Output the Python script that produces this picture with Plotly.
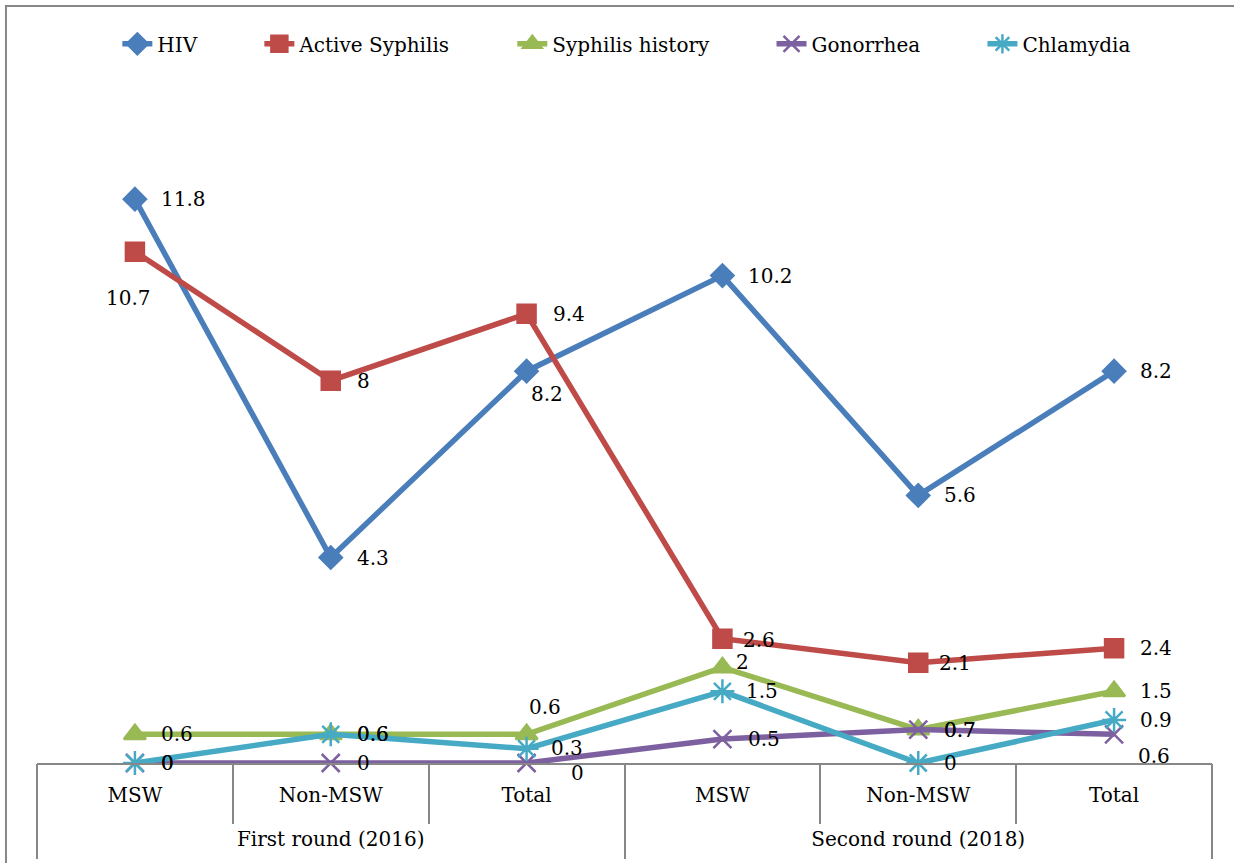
import plotly.graph_objects as go

outer_groups = ["First round (2016)", "Second round (2018)"]
inner = ["MSW", "Non-MSW", "Total", "MSW", "Non-MSW", "Total"]

series_names = ["HIV", "Active Syphilis", "Syphilis history", "Gonorrhea", "Chlamydia"]
hiv = [11.8, 4.3, 8.2, 10.2, 5.6, 8.2]
active_syphilis = [10.7, 8, 9.4, 2.6, 2.1, 2.4]
syphilis_history = [0.6, 0.6, 0.6, 2, 0.7, 1.5]
gonorrhea = [0, 0, 0, 0.5, 0.7, 0.6]
chlamydia = [0, 0.6, 0.3, 1.5, 0, 0.9]
values = [hiv, active_syphilis, syphilis_history, gonorrhea, chlamydia]

colors = ["#4A7EBB", "#BE4B48", "#98B954", "#7D60A0", "#46AAC5"]
symbols = ["diamond", "square", "triangle-up", "x-thin-open", "asterisk-open"]
sizes = [17, 18, 19, 18, 20]

# label offsets in px (dx, dy down-positive, anchor)
R = (24, 0, "left")
label_style = [
    [R, R, (2, 23, "left"), R, R, R],
    [(-6, 46, "center"), R, R, (19, 1, "left"), (19, 0, "left"), R],
    [R, R, (0, -27, "left"), (12, -5, "left"), R, R],
    [R, R, (42, 10, "left"), R, R, (22, 22, "left")],
    [R, R, (22, -1, "left"), (22, 0, "left"), R, R],
]

FONT = "DejaVu Serif"
GRAY = "#878787"
n = len(inner)
x_idx = list(range(n))
group_size = n // len(outer_groups)

fig = go.Figure()
annotations = []
for i, (name, vals, col, sym, sz) in enumerate(zip(series_names, values, colors, symbols, sizes)):
    pad = "\u00a0" * 9 if i < len(series_names) - 1 else ""
    fig.add_trace(go.Scatter(
        x=x_idx, y=vals, name=name + pad, mode="lines+markers",
        line=dict(color=col, width=5.5),
        marker=dict(symbol=sym, size=sz, color=col, line=dict(color=col, width=2.5)),
        cliponaxis=False,
    ))
    for xi, v, (dx, dy, anc) in zip(x_idx, vals, label_style[i]):
        annotations.append(dict(x=xi, y=v, xref="x", yref="y", text=f"{v:g}", showarrow=False,
                                xanchor=anc, yanchor="middle", xshift=dx, yshift=-dy,
                                font=dict(family=FONT, size=20, color="black")))

boundaries = [b - 0.5 for b in range(n + 1)]
group_edges = [g * group_size - 0.5 for g in range(len(outer_groups) + 1)]
group_centers = [g * group_size + (group_size - 1) / 2 for g in range(len(outer_groups))]
xr = [-0.5, n - 0.5]

# invisible helper traces so the overlay axes (boundary ticks, group labels) are drawn
for ax in ["x2", "x3", "x4"]:
    fig.add_trace(go.Scatter(x=[None], y=[None], xaxis=ax, yaxis="y", showlegend=False,
                             hoverinfo="skip", mode="markers"))

common = dict(range=xr, showgrid=False, zeroline=False, automargin=False, fixedrange=True)

fig.update_layout(
    width=1234, height=863,
    margin=dict(l=37, r=22, t=94, b=100, autoexpand=False),
    plot_bgcolor="white", paper_bgcolor="white",
    font=dict(family=FONT, size=20, color="black"),
    showlegend=True,
    legend=dict(orientation="h", x=0.502, xanchor="center", y=1.075, yanchor="middle",
                font=dict(family=FONT, size=20), traceorder="normal"),
    xaxis=dict(**common, tickmode="array", tickvals=x_idx, ticktext=inner, ticks="",
               showline=True, linecolor=GRAY, linewidth=2, ticklabelstandoff=13,
               tickfont=dict(family=FONT, size=20)),
    xaxis2=dict(**common, overlaying="x", anchor="y", side="bottom", tickmode="array",
                tickvals=boundaries, ticks="outside", ticklen=60, tickcolor=GRAY, tickwidth=2,
                showticklabels=False, showline=False),
    xaxis3=dict(**common, overlaying="x", anchor="y", side="bottom", tickmode="array",
                tickvals=group_edges, ticks="outside", ticklen=95, tickcolor=GRAY, tickwidth=2,
                showticklabels=False, showline=False),
    xaxis4=dict(**common, overlaying="x", anchor="y", side="bottom", tickmode="array",
                tickvals=group_centers, ticktext=outer_groups, ticks="", ticklabelstandoff=62,
                showline=False, tickfont=dict(family=FONT, size=20)),
    yaxis=dict(range=[0, 14], visible=False, showgrid=False, zeroline=False, fixedrange=True),
    annotations=annotations,
    shapes=[dict(type="rect", xref="paper", yref="paper", x0=-0.0264, x1=1.03, y0=-0.2, y1=1.1315,
                 line=dict(color=GRAY, width=2), fillcolor="rgba(0,0,0,0)", layer="below")],
)

fig.write_html("out.html", config={"displayModeBar": False},
               post_script="document.body.style.margin='0';")
